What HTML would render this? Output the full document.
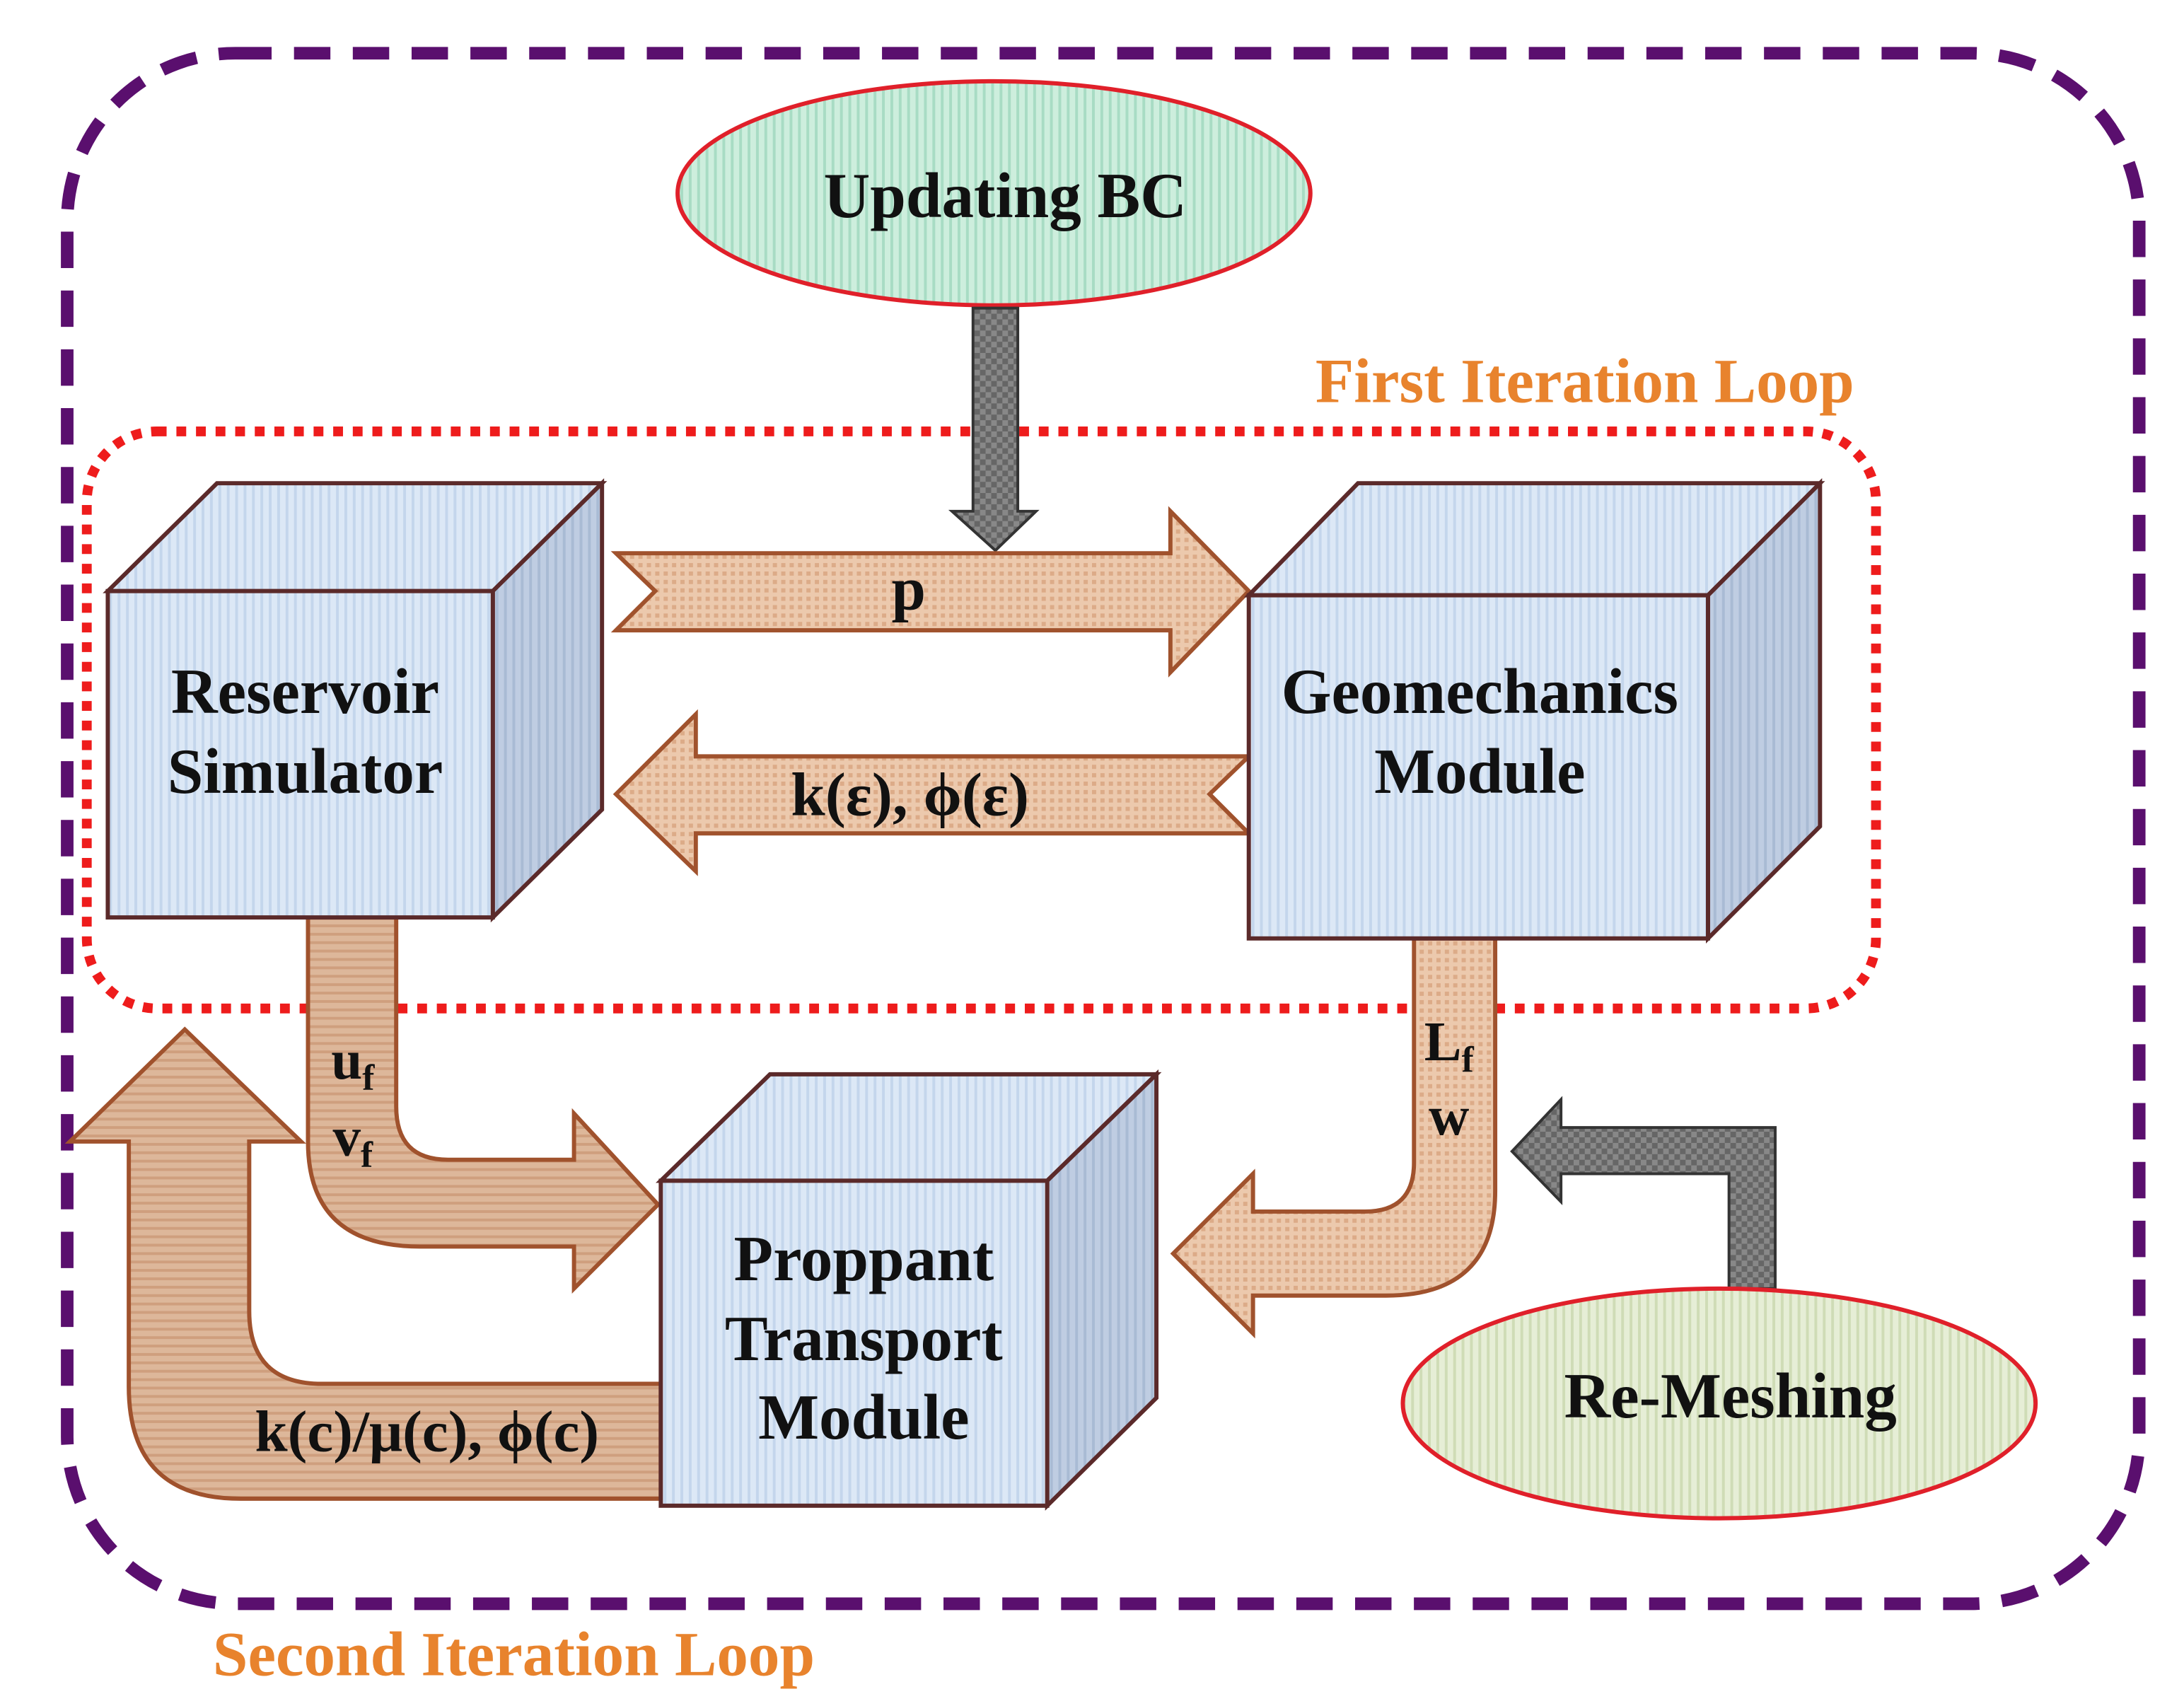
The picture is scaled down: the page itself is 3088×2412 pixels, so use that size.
<!DOCTYPE html>
<html><head><meta charset="utf-8"><style>
html,body{margin:0;padding:0;background:#fff;}
svg{display:block;}
text{font-family:"Liberation Serif",serif;font-weight:bold;}
</style></head><body>
<svg width="3088" height="2412" viewBox="0 0 1560 1218" preserveAspectRatio="none" xmlns="http://www.w3.org/2000/svg">
<defs>
<pattern id="blue" width="6" height="6" patternUnits="userSpaceOnUse"><rect width="6" height="6" fill="#dce8f6"/><rect width="2" height="6" fill="#c4d6ec"/></pattern>
<pattern id="blue2" width="6" height="6" patternUnits="userSpaceOnUse"><rect width="6" height="6" fill="#bfcde2"/><rect width="2" height="6" fill="#a9bbd4"/></pattern>
<pattern id="green" width="6" height="6" patternUnits="userSpaceOnUse"><rect width="6" height="6" fill="#cdeedd"/><rect width="2" height="6" fill="#a8dcc4"/></pattern>
<pattern id="olive" width="6" height="6" patternUnits="userSpaceOnUse"><rect width="6" height="6" fill="#e6eed6"/><rect width="2" height="6" fill="#cfdcb6"/></pattern>
<pattern id="tan" width="6" height="6" patternUnits="userSpaceOnUse"><rect width="6" height="6" fill="#ecc9ad"/><rect width="3" height="3" fill="#dcab88"/></pattern>
<pattern id="tan2" width="6" height="6" patternUnits="userSpaceOnUse"><rect width="6" height="6" fill="#ddb79a"/><rect width="6" height="2" fill="#cf9f7e"/></pattern>
<pattern id="gray" width="8" height="8" patternUnits="userSpaceOnUse"><rect width="8" height="8" fill="#666"/><rect width="4" height="4" fill="#888"/><rect x="4" y="4" width="4" height="4" fill="#888"/></pattern>
</defs>

<rect x="48" y="38" width="1480" height="1107" rx="120" fill="none" stroke="#5a0f6e" stroke-width="9" stroke-dasharray="26 16"/>
<rect x="62" y="308" width="1278" height="412" rx="50" fill="none" stroke="#ee1c1c" stroke-width="7" stroke-dasharray="7 7"/>

<text x="1132" y="287" font-size="45" fill="#e8832d" text-anchor="middle">First Iteration Loop</text>
<text x="367" y="1196" font-size="45" fill="#e8832d" text-anchor="middle">Second Iteration Loop</text>

<ellipse cx="710" cy="138" rx="226" ry="80" fill="url(#green)" stroke="#e0202a" stroke-width="3"/>
<text x="718" y="155" font-size="46" text-anchor="middle" fill="#111">Updating BC</text>

<path d="M695 220 H727 V365 H740 L711 393 L680 365 H695 Z" fill="url(#gray)" stroke="#333" stroke-width="2"/>

<path d="M440 395 H836 V365 L892 422 L836 480 V450 H440 L468 422 Z" fill="url(#tan)" stroke="#a0522d" stroke-width="3"/>
<text x="649" y="435" font-size="44" text-anchor="middle" fill="#111">p</text>
<path d="M892 540 H497 V510 L440 567 L497 622 V595 H892 L864 567 Z" fill="url(#tan)" stroke="#a0522d" stroke-width="3"/>
<text x="650" y="582" font-size="44" text-anchor="middle" fill="#111">k(ε), ϕ(ε)</text>

<path d="M220 655 V815 Q220 890 300 890 H410 V920 L470 860 L410 795 V828 H320 Q283 828 283 790 V655 Z" fill="url(#tan2)" stroke="#a0522d" stroke-width="3"/>
<text x="252" y="770" font-size="40" text-anchor="middle" fill="#111">u<tspan font-size="26" dy="8">f</tspan></text>
<text x="252" y="825" font-size="40" text-anchor="middle" fill="#111">v<tspan font-size="26" dy="8">f</tspan></text>

<path d="M1010 670 V830 Q1010 865 975 865 H895 V838 L838 895 L895 952 V925 H990 Q1068 925 1068 850 V670 Z" fill="url(#tan)" stroke="#a0522d" stroke-width="3"/>
<text x="1035" y="757" font-size="40" text-anchor="middle" fill="#111">L<tspan font-size="26" dy="8">f</tspan></text>
<text x="1035" y="810" font-size="40" text-anchor="middle" fill="#111">w</text>

<path d="M472 988 H230 Q178 988 178 936 V815 H215 L132 735 L50 815 H92 V990 Q92 1070 172 1070 H472 Z" fill="url(#tan2)" stroke="#a0522d" stroke-width="3"/>
<text x="305" y="1036" font-size="42" text-anchor="middle" fill="#111">k(c)/μ(c), ϕ(c)</text>

<path d="M1268 920 V805 H1115 V785 L1080 822 L1115 858 V838 H1235 V920 Z" fill="url(#gray)" stroke="#333" stroke-width="2"/>
<ellipse cx="1228" cy="1002" rx="226" ry="82" fill="url(#olive)" stroke="#e0202a" stroke-width="3"/>
<text x="1236" y="1012" font-size="46" text-anchor="middle" fill="#111">Re-Meshing</text>

<g stroke="#5b2a2a" stroke-width="3">
<path d="M77 422 L155 345 H430 L352 422 Z" fill="url(#blue)"/>
<path d="M352 422 L430 345 V578 L352 655 Z" fill="url(#blue2)"/>
<rect x="77" y="422" width="275" height="233" fill="url(#blue)"/>
</g>
<text x="218" y="509" font-size="46" text-anchor="middle" fill="#111">Reservoir</text>
<text x="218" y="566" font-size="46" text-anchor="middle" fill="#111">Simulator</text>

<g stroke="#5b2a2a" stroke-width="3">
<path d="M892 425 L970 345 H1300 L1220 425 Z" fill="url(#blue)"/>
<path d="M1220 425 L1300 345 V590 L1220 670 Z" fill="url(#blue2)"/>
<rect x="892" y="425" width="328" height="245" fill="url(#blue)"/>
</g>
<text x="1057" y="509" font-size="46" text-anchor="middle" fill="#111">Geomechanics</text>
<text x="1057" y="566" font-size="46" text-anchor="middle" fill="#111">Module</text>

<g stroke="#5b2a2a" stroke-width="3">
<path d="M472 843 L550 767 H826 L748 843 Z" fill="url(#blue)"/>
<path d="M748 843 L826 767 V998 L748 1075 Z" fill="url(#blue2)"/>
<rect x="472" y="843" width="276" height="232" fill="url(#blue)"/>
</g>
<text x="617" y="914" font-size="46" text-anchor="middle" fill="#111">Proppant</text>
<text x="617" y="971" font-size="46" text-anchor="middle" fill="#111">Transport</text>
<text x="617" y="1027" font-size="46" text-anchor="middle" fill="#111">Module</text>
</svg>
</body></html>
